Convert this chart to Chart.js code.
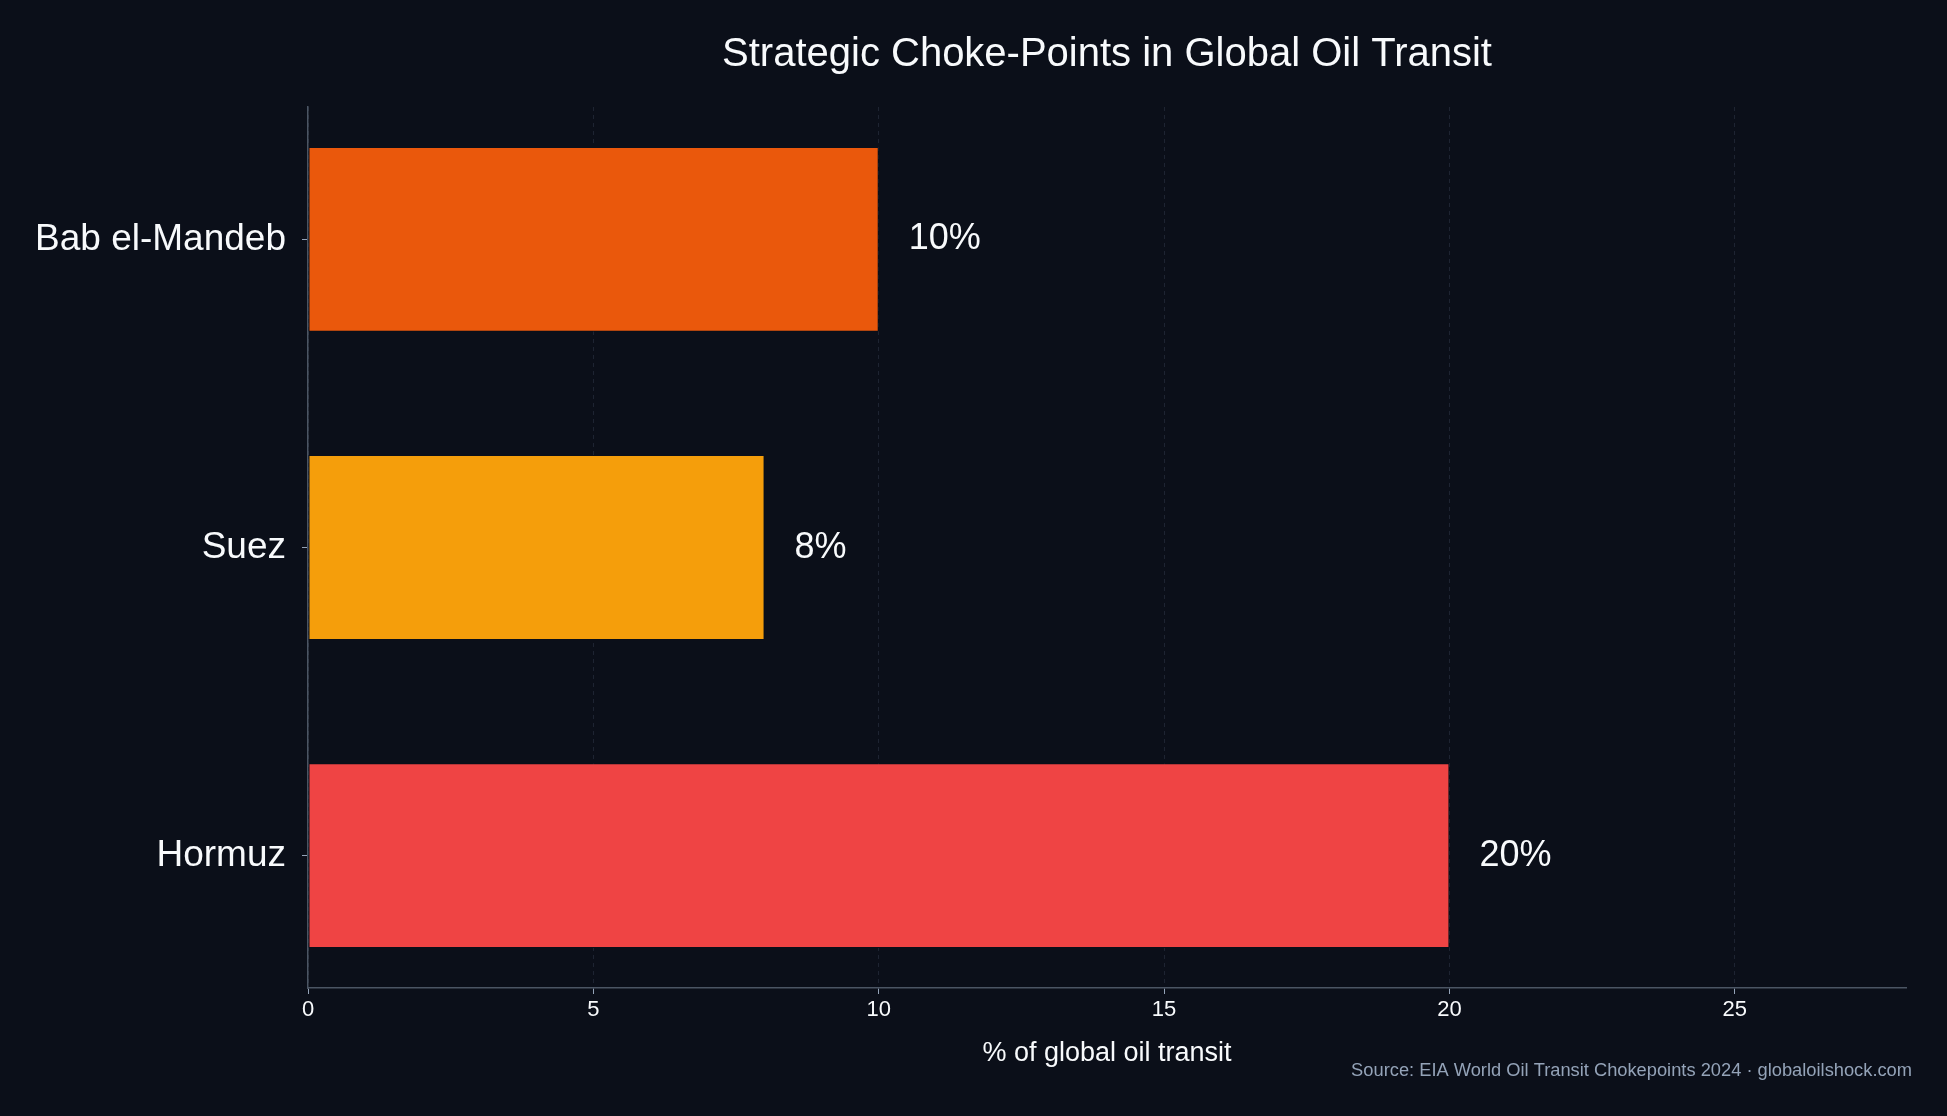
<!DOCTYPE html>
<html>
<head>
<meta charset="utf-8">
<title>Strategic Choke-Points in Global Oil Transit</title>
<script src="https://cdn.jsdelivr.net/npm/chart.js@4.4.1/dist/chart.umd.min.js"></script>
<style>
  html, body { margin: 0; padding: 0; background: #0b0f19; }
  #wrap { width: 1947px; height: 1116px; position: relative; }
</style>
</head>
<body>
<div id="wrap"><canvas id="chokeChart"></canvas></div>
<script>
// datos (de abajo hacia arriba, como en el original)
const categories = ['Hormuz', 'Suez', 'Bab el-Mandeb'];
const shares = [20, 8, 10];
const barColors = ['#ef4444', '#f59e0b', '#ea580c'];
const xTicks = [0, 5, 10, 15, 20, 25];

const BG = '#0b0f19';
const FONT = '"Liberation Sans", Arial, Helvetica, sans-serif';

// fondo, título, etiquetas de valor y fuente
const extras = {
  id: 'extras',
  beforeDraw(chart) {
    const ctx = chart.ctx;
    ctx.save();
    ctx.fillStyle = BG;
    ctx.fillRect(0, 0, chart.width, chart.height);
    ctx.restore();
  },
  afterDraw(chart) {
    const ctx = chart.ctx;
    const area = chart.chartArea;
    const mid = (area.left + area.right) / 2;
    ctx.save();
    ctx.fillStyle = '#f8fafc';
    ctx.textAlign = 'center';
    ctx.textBaseline = 'alphabetic';
    ctx.font = '40px ' + FONT;
    ctx.fillText('Strategic Choke-Points in Global Oil Transit', mid, 66);

    // eje x
    ctx.font = '27px ' + FONT;
    ctx.fillText('% of global oil transit', mid, 1061);

    // fuente
    ctx.fillStyle = '#94a3b8';
    ctx.textAlign = 'right';
    ctx.font = '18.3px ' + FONT;
    ctx.fillText('Source: EIA World Oil Transit Chokepoints 2024 \u00b7 globaloilshock.com', 1912, 1076);

    // porcentajes al final de cada barra
    ctx.fillStyle = '#f8fafc';
    ctx.textAlign = 'left';
    ctx.font = '36px ' + FONT;
    chart.getDatasetMeta(0).data.forEach((bar, i) => {
      ctx.fillText(shares[i] + '%', bar.x + 30, bar.y + 10);
    });
    ctx.restore();
  }
};

document.addEventListener('DOMContentLoaded', () => {
  const ctx = document.getElementById('chokeChart').getContext('2d');
  new Chart(ctx, {
    type: 'bar',
    data: {
      datasets: [{
        data: categories.map((c, i) => ({ x: shares[i], y: i })),
        backgroundColor: barColors,
        borderColor: BG,
        borderWidth: 1,
        borderSkipped: false,
        barPercentage: 0.6,
        categoryPercentage: 1.0
      }]
    },
    options: {
      indexAxis: 'y',
      responsive: true,
      maintainAspectRatio: false,
      animation: false,
      devicePixelRatio: 1,
      layout: { padding: { top: 107, right: 41, bottom: 0, left: 0 } },
      plugins: {
        legend: { display: false },
        tooltip: { enabled: false }
      },
      scales: {
        x: {
          type: 'linear',
          min: 0,
          max: 28,
          z: 1,
          afterBuildTicks: (scale) => { scale.ticks = xTicks.map(v => ({ value: v })); },
          afterFit: (scale) => { scale.height = 128; },
          ticks: {
            color: '#f8fafc',
            font: { family: FONT, size: 22 },
            padding: 3,
            maxRotation: 0
          },
          grid: {
            color: 'rgba(100, 116, 139, 0.22)',
            lineWidth: 1,
            drawTicks: true,
            tickLength: 6,
            tickColor: '#94a3b8',
            tickWidth: 1
          },
          border: { display: true, color: '#4b5563', width: 1.5, dash: [4, 4] }
        },
        y: {
          type: 'linear',
          min: -0.43,
          max: 2.43,
          offset: false,
          afterBuildTicks: (scale) => { scale.ticks = categories.map((c, i) => ({ value: i })); },
          afterFit: (scale) => { scale.width = 308; },
          ticks: {
            color: '#f8fafc',
            font: { family: FONT, size: 37 },
            padding: 16,
            callback: (v) => categories[v]
          },
          grid: {
            offset: false,
            drawOnChartArea: false,
            drawTicks: true,
            tickLength: 6,
            color: '#94a3b8',
            tickColor: '#94a3b8'
          },
          border: { display: true, color: '#4b5563', width: 1.5 }
        }
      }
    },
    plugins: [extras]
  });
});
</script>
</body>
</html>
